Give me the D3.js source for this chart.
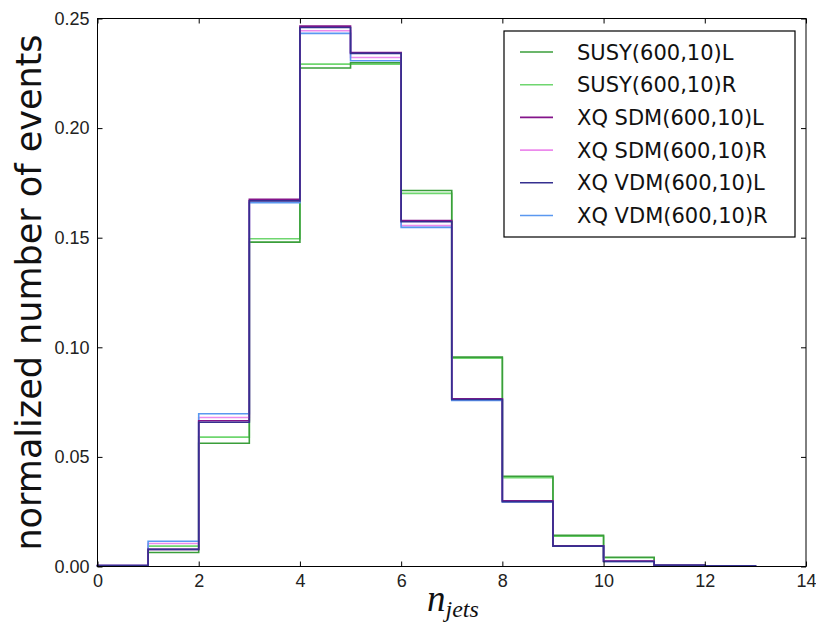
<!DOCTYPE html>
<html lang="en">
  <head>
    <meta charset="UTF-8" />
    <title>n_jets distributions</title>
    <script src="https://cdn.jsdelivr.net/npm/d3@7"></script>
    <style>
      body {
        margin: 0;
        background: #fff;
      }
      svg {
        display: block;
        font-family: 'DejaVu Sans', sans-serif;
      }
      .tick text {
        font-size: 18px;
        fill: #222;
      }
      .tick line {
        stroke: #000;
      }
    </style>
  </head>
  <body>
    <svg width="816" height="625"></svg>

    <script>
      // bin edges 0..13, one value per bin
      const binEdges = [0, 1, 2, 3, 4, 5, 6, 7, 8, 9, 10, 11, 12, 13];
      const seriesNames = [
        'SUSY(600,10)L',
        'SUSY(600,10)R',
        'XQ SDM(600,10)L',
        'XQ SDM(600,10)R',
        'XQ VDM(600,10)L',
        'XQ VDM(600,10)R'
      ];
      const susyL = [0.0003, 0.0064, 0.0562, 0.148, 0.2274, 0.2298, 0.1715, 0.0955, 0.0412, 0.0142, 0.0042, 0.0008, 0.0002];
      const susyR = [0.0003, 0.0093, 0.059, 0.1495, 0.2292, 0.2292, 0.1702, 0.095, 0.0405, 0.0138, 0.004, 0.0008, 0.0002];
      const sdmL = [0.0004, 0.0078, 0.0665, 0.1675, 0.2465, 0.2345, 0.1578, 0.0765, 0.03, 0.0095, 0.0025, 0.0005, 0.0003];
      const sdmR = [0.0004, 0.0105, 0.068, 0.167, 0.2444, 0.2322, 0.1555, 0.076, 0.0298, 0.0094, 0.0024, 0.0005, 0.0003];
      const vdmL = [0.0004, 0.0078, 0.0658, 0.1668, 0.2459, 0.2341, 0.1573, 0.0762, 0.0296, 0.0093, 0.0023, 0.0005, 0.0003];
      const vdmR = [0.0004, 0.0115, 0.0697, 0.166, 0.2432, 0.2307, 0.1547, 0.0758, 0.0295, 0.0093, 0.0023, 0.0005, 0.0003];
      const xTicks = [0, 2, 4, 6, 8, 10, 12, 14];
      const yTicks = [0.0, 0.05, 0.1, 0.15, 0.2, 0.25];

      const seriesValues = [susyL, susyR, sdmL, sdmR, vdmL, vdmR];
      const colors = ['#3a9e3a', '#6fd66f', '#84148a', '#ec8aec', '#35308f', '#5a98f0'];
      // dark outlines end up on top, as in the original
      const drawOrder = [1, 0, 3, 5, 2, 4];

      const svg = d3.select('svg');
      const margin = { top: 18.5, left: 97.5, right: 10, bottom: 58.5 };
      const width = 816 - margin.left - margin.right;
      const height = 625 - margin.top - margin.bottom;

      const x = d3.scaleLinear().domain([0, 14]).range([0, width]);
      const y = d3.scaleLinear().domain([0, 0.25]).range([height, 0]);

      const g = svg.append('g').attr('transform', `translate(${margin.left},${margin.top})`);

      // histograms as step outlines
      const line = d3
        .line()
        .x((d) => x(d[0]))
        .y((d) => y(d[1]));

      drawOrder.forEach((i) => {
        const vals = seriesValues[i];
        const pts = [[binEdges[0], 0]];
        vals.forEach((v, k) => {
          pts.push([binEdges[k], v]);
          pts.push([binEdges[k + 1], v]);
        });
        pts.push([binEdges[binEdges.length - 1], 0]);
        g.append('path')
          .datum(pts)
          .attr('fill', 'none')
          .attr('stroke', colors[i])
          .attr('stroke-width', 1.6)
          .attr('d', line);
      });

      // axes, ticks pointing inward
      const xAxis = g
        .append('g')
        .attr('transform', `translate(0,${height})`)
        .call(d3.axisBottom(x).tickValues(xTicks).tickFormat(d3.format('d')).tickSize(-5).tickPadding(7));
      g.append('g')
        .call(d3.axisLeft(y).tickValues(yTicks).tickFormat(d3.format('.2f')).tickSize(-5).tickPadding(8));
      g.append('g').call(d3.axisTop(x).tickValues(xTicks).tickFormat('').tickSize(-5));
      g.append('g')
        .attr('transform', `translate(${width},0)`)
        .call(d3.axisRight(y).tickValues(yTicks).tickFormat('').tickSize(-5));
      g.selectAll('.domain').remove();
      xAxis.selectAll('text').attr('dy', '0.75em');

      g.append('rect')
        .attr('width', width)
        .attr('height', height)
        .attr('fill', 'none')
        .attr('stroke', '#000')
        .attr('stroke-width', 1);

      // axis labels
      svg.append('text')
        .attr('transform', `translate(41,${margin.top + height / 2}) rotate(-90)`)
        .attr('text-anchor', 'middle')
        .attr('font-size', 35)
        .attr('fill', '#111')
        .text('normalized number of events');

      const xl = svg.append('text')
        .attr('x', 427)
        .attr('y', 611)
        .attr('font-family', "'Liberation Serif', serif")
        .attr('font-style', 'italic')
        .attr('fill', '#111');
      xl.append('tspan').attr('font-size', 37).text('n');
      xl.append('tspan').attr('font-size', 24).attr('dy', 6).text('jets');

      // legend
      const leg = svg.append('g');
      leg.append('rect')
        .attr('x', 504)
        .attr('y', 31)
        .attr('width', 291)
        .attr('height', 206)
        .attr('fill', '#fff')
        .attr('stroke', '#000')
        .attr('stroke-width', 1.2);
      seriesNames.forEach((name, i) => {
        const cy = 52 + i * 32.7;
        leg.append('line')
          .attr('x1', 520)
          .attr('x2', 553)
          .attr('y1', cy)
          .attr('y2', cy)
          .attr('stroke', colors[i])
          .attr('stroke-width', 1.6);
        leg.append('text')
          .attr('x', 577)
          .attr('y', cy)
          .attr('dy', '0.36em')
          .attr('font-size', 21)
          .attr('fill', '#111')
          .text(name);
      });
    </script>
  </body>
</html>
